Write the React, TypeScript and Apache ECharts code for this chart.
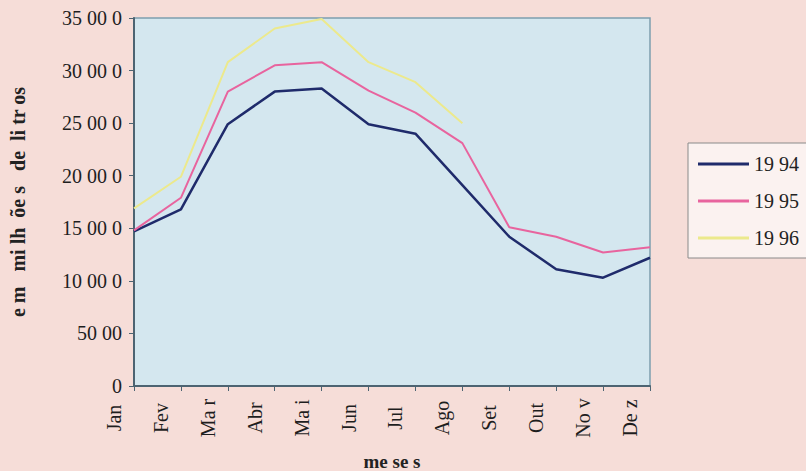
import React, { useEffect, useRef } from "react";
import * as echarts from "echarts";

const months = ["Jan", "Fev", "Ma r", "Abr", "Ma i", "Jun", "Jul", "Ago", "Set", "Out", "No v", "De z"];
const s1994 = [14700, 16800, 24900, 28000, 28300, 24900, 24000, 19100, 14200, 11100, 10300, 12200];
const s1995 = [14800, 17900, 28000, 30500, 30800, 28100, 26000, 23100, 15100, 14200, 12700, 13200];
const s1996 = [16900, 19900, 30800, 34000, 34900, 30800, 28900, 25000, null, null, null, null];
const yTickValues = [0, 5000, 10000, 15000, 20000, 25000, 30000, 35000];
const yTickLabels = ["0", "50 00", "10 00 0", "15 00 0", "20 00 0", "25 00 0", "30 00 0", "35 00 0"];
const seriesNames = ["19 94", "19 95", "19 96"];

const FONT = "'Liberation Serif', 'Times New Roman', serif";
const LEGEND_ICON = "path://M0,0H100V6H0Z";

export default function App() {
  const ref = useRef<HTMLDivElement>(null);
  useEffect(() => {
    if (!ref.current) return;
    const chart = echarts.init(ref.current, undefined, { renderer: "svg" });
    chart.setOption({
      animation: false,
      backgroundColor: "#f6ddd8",
      textStyle: { fontFamily: FONT },
      grid: {
        left: 134,
        top: 18,
        width: 516,
        height: 368,
        show: true,
        backgroundColor: "#d4e7ef",
        borderColor: "#7d9eae",
        borderWidth: 1.5,
        containLabel: false,
        outerBoundsMode: "none",
      },
      legend: {
        orient: "vertical",
        left: 688,
        top: 143,
        padding: [11, 20, 10, 10],
        itemWidth: 51,
        itemHeight: 14,
        itemGap: 17,
        icon: LEGEND_ICON,
        backgroundColor: "#fbf2f0",
        borderColor: "#8a8a8a",
        borderWidth: 1,
        textStyle: { fontFamily: FONT, fontSize: 20, color: "#222" },
        data: seriesNames,
      },
      xAxis: {
        type: "category",
        data: months,
        boundaryGap: false,
        name: "me se s",
        nameLocation: "middle",
        nameGap: 66,
        nameMoveOverlap: false,
        nameTextStyle: { fontFamily: FONT, fontSize: 19, fontWeight: "bold", color: "#222" },
        axisLine: { lineStyle: { color: "#4d6472", width: 2 } },
        axisTick: { show: true, length: 5, lineStyle: { color: "#4d6472" }, alignWithLabel: true },
        axisLabel: {
          rotate: 90,
          align: "center",
          verticalAlign: "bottom",
          lineHeight: 40,
          margin: 32,
          fontFamily: FONT,
          fontSize: 20,
          color: "#1e1e1e",
          interval: 0,
        },
        splitLine: { show: false },
      },
      yAxis: {
        type: "value",
        min: 0,
        max: 35000,
        interval: 5000,
        name: "e m   mi lh  õe s   de  li tr os",
        nameLocation: "middle",
        nameGap: 106,
        nameMoveOverlap: false,
        nameRotate: 90,
        nameTextStyle: { fontFamily: FONT, fontSize: 20, fontWeight: "bold", color: "#222" },
        axisLine: { show: true, lineStyle: { color: "#4d6472", width: 2 } },
        axisTick: { show: true, length: 5, lineStyle: { color: "#4d6472" } },
        axisLabel: {
          margin: 12,
          fontFamily: FONT,
          fontSize: 20,
          color: "#1e1e1e",
          formatter: (v: number) => {
            const i = yTickValues.indexOf(v);
            return i >= 0 ? yTickLabels[i] : "";
          },
        },
        splitLine: { show: false },
      },
      series: [
        {
          name: seriesNames[0],
          type: "line",
          data: s1994,
          symbol: "none",
          lineStyle: { color: "#1f2b6b", width: 2.5 },
          itemStyle: { color: "#1f2b6b" },
        },
        {
          name: seriesNames[1],
          type: "line",
          data: s1995,
          symbol: "none",
          lineStyle: { color: "#e8649e", width: 2 },
          itemStyle: { color: "#e8649e" },
        },
        {
          name: seriesNames[2],
          type: "line",
          data: s1996,
          symbol: "none",
          lineStyle: { color: "#ece98c", width: 2 },
          itemStyle: { color: "#ece98c" },
        },
      ],
    });
    return () => chart.dispose();
  }, []);
  return (
    <div
      ref={ref}
      style={{ position: "fixed", left: 0, top: 0, width: 806, height: 471 }}
    />
  );
}
